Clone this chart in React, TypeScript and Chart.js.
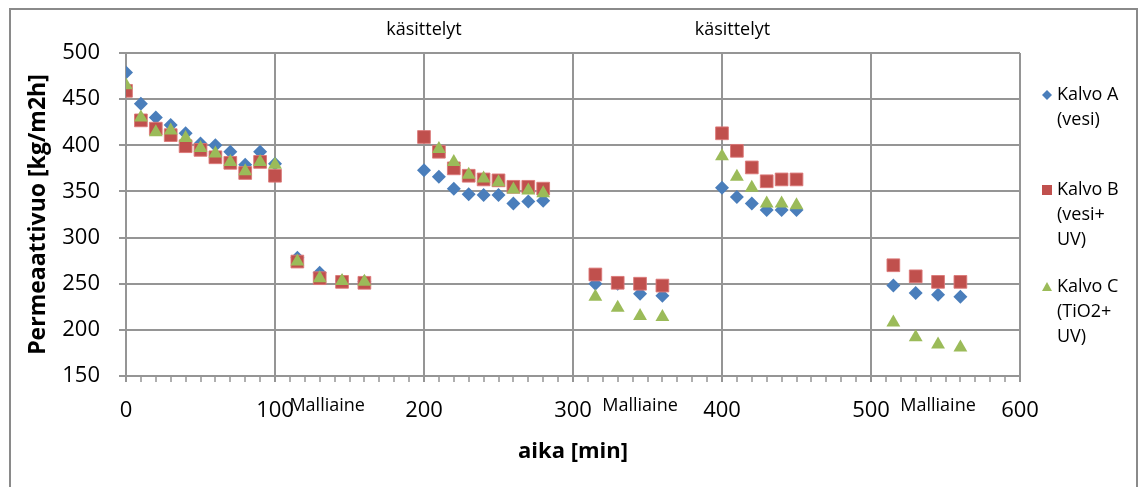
import React, { useEffect, useRef } from "react";
import { Chart, registerables } from "chart.js";

Chart.register(...registerables);

// time points [min]
const times = [0, 10, 20, 30, 40, 50, 60, 70, 80, 90, 100, 115, 130, 145, 160, 200, 210, 220, 230, 240, 250, 260, 270, 280, 315, 330, 345, 360, 400, 410, 420, 430, 440, 450, 515, 530, 545, 560];
const kalvoA = [479, 445, 430, 422, 413, 402, 400, 393, 379, 393, 380, 278, 262, 253, 252, 373, 366, 353, 347, 346, 346, 337, 339, 340, 250, 250, 239, 237, 354, 344, 337, 330, 330, 330, 248, 240, 238, 236];
const kalvoB = [459, 427, 418, 411, 399, 395, 387, 381, 370, 382, 367, 274, 256, 252, 251, 409, 393, 375, 367, 363, 362, 355, 355, 353, 260, 251, 250, 248, 413, 394, 376, 361, 363, 363, 270, 258, 252, 252];
const kalvoC: (number | null)[] = [465, 430, 414, 416, 408, 397, 391, 382, 372, 382, 379, 274, 256, 253, 252, null, 396, 382, 368, 364, 360, 352, 351, 348, 236, 224, 215, 214, 388, 366, 354, 337, 337, 335, 208, 192, 184, 181];

const seriesNames = [["Kalvo A", "(vesi)"], ["Kalvo B", "(vesi+", "UV)"], ["Kalvo C", "(TiO2+", "UV)"]];
const seriesColors = ["#4A7EBB", "#C0504D", "#9BBB59"];
const topNotes = [{ x: 200, text: "käsittelyt" }, { x: 407, text: "käsittelyt" }];
const bottomNotes = [{ x: 135, text: "Malliaine" }, { x: 345, text: "Malliaine" }, { x: 545, text: "Malliaine" }];

const yTitle = "Permeaattivuo [kg/m2h]";
const xTitle = "aika [min]";
const FONT = "'Open Sans', 'Noto Sans', sans-serif";
const GRID = "#959595";

function toPoints(vals: (number | null)[]) {
  const out: { x: number; y: number }[] = [];
  vals.forEach((v, i) => {
    if (v !== null) out.push({ x: times[i], y: v });
  });
  return out;
}

function drawMarker(ctx: CanvasRenderingContext2D, kind: number, x: number, y: number, s: number) {
  ctx.beginPath();
  if (kind === 0) {
    ctx.moveTo(x, y - s);
    ctx.lineTo(x + s, y);
    ctx.lineTo(x, y + s);
    ctx.lineTo(x - s, y);
  } else if (kind === 1) {
    ctx.rect(x - s, y - s, 2 * s, 2 * s);
  } else {
    ctx.moveTo(x, y - s);
    ctx.lineTo(x + s, y + s * 0.8);
    ctx.lineTo(x - s, y + s * 0.8);
  }
  ctx.closePath();
  ctx.fillStyle = seriesColors[kind];
  ctx.fill();
}

const decor = {
  id: "decor",
  beforeDraw(chart: any) {
    const ctx = chart.ctx;
    ctx.save();
    ctx.fillStyle = "#fff";
    ctx.fillRect(0, 0, chart.width, chart.height);
    ctx.restore();
  },
  afterDraw(chart: any) {
    const ctx: CanvasRenderingContext2D = chart.ctx;
    const xs = chart.scales.x;
    const area = chart.chartArea;
    ctx.save();
    // outer frame
    ctx.strokeStyle = "#8a8a8a";
    ctx.lineWidth = 2;
    ctx.strokeRect(10, 9, 1127, 500);

    ctx.fillStyle = "#000";
    ctx.textAlign = "center";
    ctx.textBaseline = "middle";
    ctx.font = `18px ${FONT}`;
    topNotes.forEach((n) => ctx.fillText(n.text, xs.getPixelForValue(n.x), 30));
    bottomNotes.forEach((n) => ctx.fillText(n.text, xs.getPixelForValue(n.x), 406));

    // axis titles
    ctx.font = `bold 22px ${FONT}`;
    ctx.fillText(xTitle, (area.left + area.right) / 2, 452);
    ctx.save();
    ctx.translate(38, (area.top + area.bottom) / 2);
    ctx.rotate(-Math.PI / 2);
    ctx.font = `bold 23px ${FONT}`;
    ctx.fillText(yTitle, 0, 0);
    ctx.restore();

    // legend
    const legendY = [95, 190, 287];
    ctx.font = `18px ${FONT}`;
    ctx.textAlign = "left";
    seriesNames.forEach((lines, i) => {
      drawMarker(ctx, i, 1047, legendY[i], 5);
      lines.forEach((l, j) => {
        ctx.fillStyle = "#000";
        ctx.fillText(l, 1057, legendY[i] + j * 25);
      });
    });
    ctx.restore();
  },
};

export default function App() {
  const ref = useRef<HTMLCanvasElement>(null);
  useEffect(() => {
    document.body.style.margin = "0";
    const chart = new Chart(ref.current!, {
      type: "scatter",
      data: {
        datasets: [
          { label: seriesNames[0].join(" "), data: toPoints(kalvoA), pointStyle: "rectRot", pointRadius: 7, backgroundColor: seriesColors[0], borderColor: seriesColors[0], borderWidth: 0, order: 3 },
          { label: seriesNames[1].join(" "), data: toPoints(kalvoB), pointStyle: "rect", pointRadius: 9, backgroundColor: seriesColors[1], borderColor: "rgba(220,120,120,0.9)", borderWidth: 1, order: 2 },
          { label: seriesNames[2].join(" "), data: toPoints(kalvoC), pointStyle: "triangle", pointRadius: 8, backgroundColor: seriesColors[2], borderColor: seriesColors[2], borderWidth: 0, order: 1 },
        ],
      },
      options: {
        animation: false,
        responsive: false,
        layout: { padding: { left: 0, right: 124, top: 53, bottom: 0 } },
        plugins: { legend: { display: false }, tooltip: { enabled: false } },
        scales: {
          x: {
            type: "linear",
            min: 0,
            max: 600,
            afterFit: (s: any) => { s.height = 111; },
            border: { color: GRID, width: 2 },
            grid: {
              color: (c: any) => (c.tick && c.tick.value % 100 === 0 ? GRID : "rgba(0,0,0,0)"),
              lineWidth: 2,
              tickColor: GRID,
              tickWidth: (c: any) => (c.tick && c.tick.value % 100 === 0 ? 2 : 1.5),
              tickLength: 6,
            },
            ticks: {
              stepSize: 10,
              autoSkip: false,
              maxRotation: 0,
              padding: 16,
              color: "#000",
              font: { family: FONT, size: 22 },
              callback: (v: any) => (Number(v) % 100 === 0 ? String(v) : ""),
            },
          },
          y: {
            min: 150,
            max: 500,
            afterFit: (s: any) => { s.width = 126; },
            border: { color: GRID, width: 2 },
            grid: { color: GRID, lineWidth: 2, tickLength: 7, tickColor: GRID },
            ticks: { stepSize: 50, padding: 19, color: "#000", font: { family: FONT, size: 22 } },
          },
        },
      },
      plugins: [decor],
    } as any);
    return () => chart.destroy();
  }, []);
  return (
    <div style={{ width: 1144, height: 487 }}>
      <canvas ref={ref} width={1144} height={487} style={{ width: 1144, height: 487 }} />
    </div>
  );
}
